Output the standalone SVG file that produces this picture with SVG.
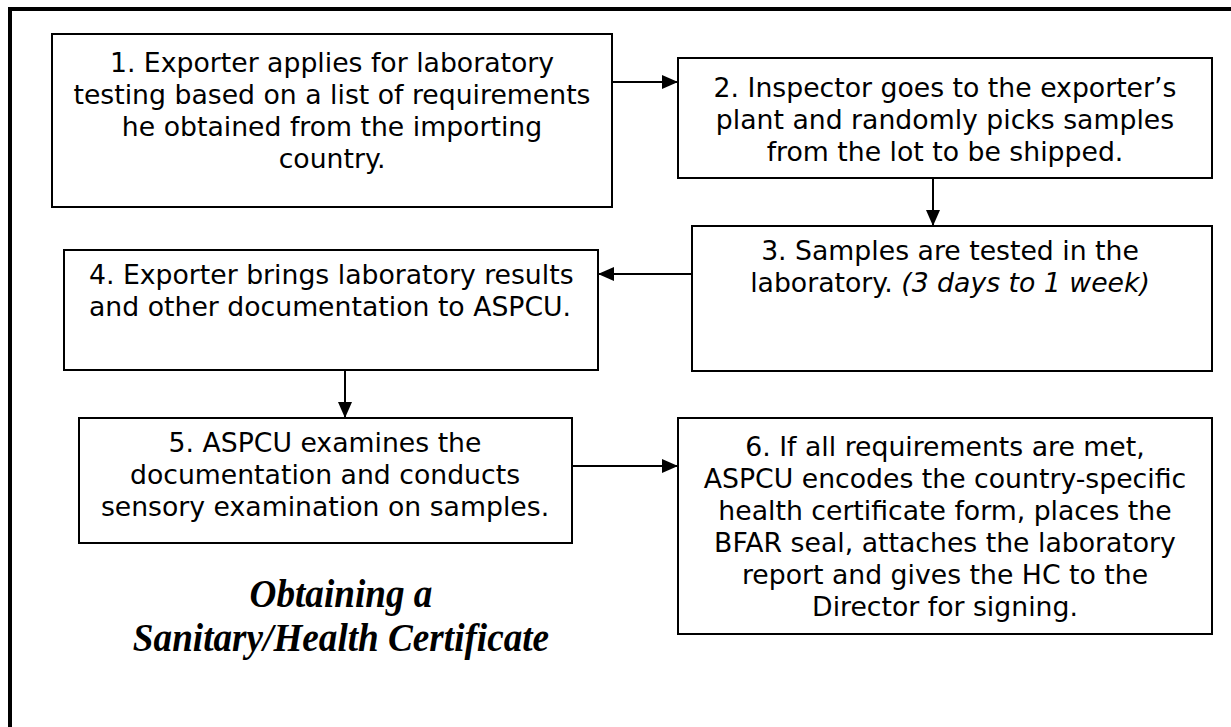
<svg xmlns="http://www.w3.org/2000/svg" width="1231" height="727" viewBox="0 0 1231 727">
<style>
.box{fill:#fff;stroke:#000;stroke-width:2}
.t{font-family:"DejaVu Sans",Verdana,sans-serif;font-size:26.7px;fill:#000;text-anchor:middle}
.l{text-anchor:start}
.title{font-family:"Liberation Serif","Times New Roman",serif;font-size:40px;font-weight:bold;font-style:italic;fill:#000;text-anchor:middle}
.conn{stroke:#000;stroke-width:2;fill:none}
</style>
<defs>
<marker id="ahb" viewBox="0 0 10 10" refX="10" refY="5" markerWidth="16" markerHeight="14" markerUnits="userSpaceOnUse" orient="auto" preserveAspectRatio="none">
<path d="M0,0 L10,5 L0,10 z" fill="#000"/>
</marker>
</defs>
<rect x="0" y="0" width="1231" height="727" fill="#fff"/>
<rect x="10" y="9" width="1240" height="740" fill="none" stroke="#000" stroke-width="4"/>
<g id="connectors">
<line class="conn" x1="612" y1="82" x2="678" y2="82" marker-end="url(#ahb)"/>
<line class="conn" x1="933" y1="178" x2="933" y2="226" marker-end="url(#ahb)"/>
<line class="conn" x1="692" y1="274" x2="598" y2="274" marker-end="url(#ahb)"/>
<line class="conn" x1="345" y1="370" x2="345" y2="418" marker-end="url(#ahb)"/>
<line class="conn" x1="572" y1="466" x2="678" y2="466" marker-end="url(#ahb)"/>
</g>
<g id="node1">
<rect class="box" x="52" y="34" width="560" height="173"/>
<text class="t" x="332" y="72">1. Exporter applies for laboratory</text>
<text class="t" x="332" y="104">testing based on a list of requirements</text>
<text class="t" x="332" y="136">he obtained from the importing</text>
<text class="t" x="332" y="168">country.</text>
</g>
<g id="node2">
<rect class="box" x="678" y="58" width="534" height="120"/>
<text class="t" x="945" y="97">2. Inspector goes to the exporter’s</text>
<text class="t" x="945" y="129">plant and randomly picks samples</text>
<text class="t" x="945" y="161">from the lot to be shipped.</text>
</g>
<g id="node3">
<rect class="box" x="692" y="226" width="520" height="145"/>
<text class="t" x="950" y="260">3. Samples are tested in the</text>
<text class="t" x="950" y="292">laboratory. <tspan font-style="italic">(3 days to 1 week)</tspan></text>
</g>
<g id="node4">
<rect class="box" x="64" y="250" width="534" height="120"/>
<text class="t l" x="89" y="284">4. Exporter brings laboratory results</text>
<text class="t l" x="89" y="316">and other documentation to ASPCU.</text>
</g>
<g id="node5">
<rect class="box" x="79" y="418" width="493" height="125"/>
<text class="t" x="325" y="452">5. ASPCU examines the</text>
<text class="t" x="325" y="484">documentation and conducts</text>
<text class="t" x="325" y="516">sensory examination on samples.</text>
</g>
<g id="node6">
<rect class="box" x="678" y="418" width="534" height="216"/>
<text class="t" x="945" y="456">6. If all requirements are met,</text>
<text class="t" x="945" y="488">ASPCU encodes the country-specific</text>
<text class="t" x="945" y="520">health certificate form, places the</text>
<text class="t" x="945" y="552">BFAR seal, attaches the laboratory</text>
<text class="t" x="945" y="584">report and gives the HC to the</text>
<text class="t" x="945" y="616">Director for signing.</text>
</g>
<g id="title">
<text class="title" transform="translate(341 607) scale(0.93 1)">Obtaining a</text>
<text class="title" transform="translate(341 651) scale(0.93 1)">Sanitary/Health Certificate</text>
</g>
</svg>
